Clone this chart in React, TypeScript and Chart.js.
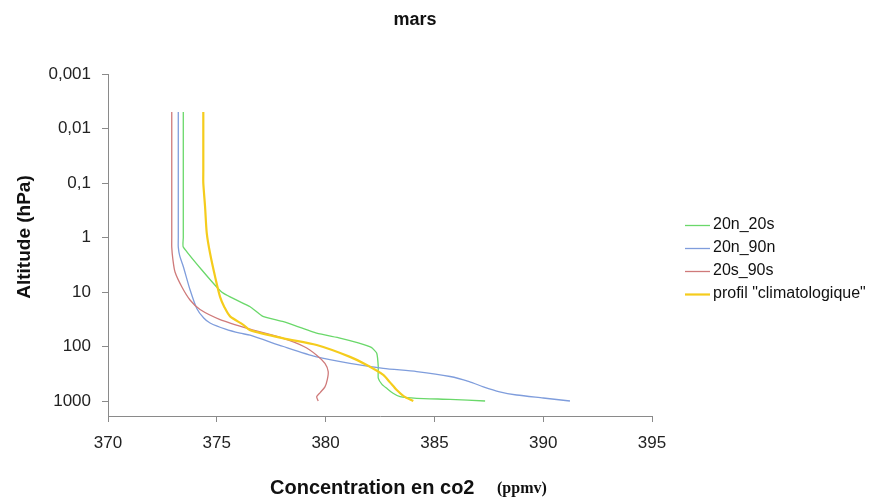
import React, { useEffect, useRef } from "react";
import { Chart, registerables } from "chart.js";

Chart.register(...registerables);

const chartTitle = "mars";
const xTitle = "Concentration en co2";
const xUnit = "(ppmv)";
const yTitle = "Altitude (hPa)";
const xTickValues = [370, 375, 380, 385, 390, 395];
const yTickValues = [0.001, 0.01, 0.1, 1, 10, 100, 1000];

const seriesNames = ["20n_20s", "20n_90n", "20s_90s", "profil \"climatologique\""];
const seriesColors = ["#6ad86a", "#7f9ddc", "#cf7a7a", "#f5cc1c"];

// 20n_20s
const greenCo2 = [373.46, 373.46, 373.46, 375.22, 376.53, 377.12, 378.06, 379.59, 380.66, 381.5, 382.1, 382.35, 382.42, 382.42, 382.6, 382.81, 383.1, 383.42, 384.19, 385.72, 387.33];
const greenP = [0.005, 1.0, 1.5, 10, 18.6, 28, 35, 57, 70, 86, 104, 133, 235, 380, 500, 585, 720, 832, 891, 933, 1000];
// 20n_90n
const blueCo2 = [373.23, 373.23, 373.23, 373.3, 373.46, 373.77, 374.08, 374.4, 374.69, 375.4, 376.07, 376.53, 378.06, 379.59, 381.12, 382.65, 384.19, 385.72, 386.6, 387.25, 388.0, 388.78, 390.0, 391.23];
const blueP = [0.005, 1.0, 1.5, 2.2, 3.4, 9.1, 20, 30, 37, 48, 57, 62, 100, 155, 204, 251, 288, 355, 440, 550, 680, 776, 880, 1000];
// 20s_90s
const redCo2 = [372.93, 372.93, 372.93, 372.98, 373.08, 373.39, 373.77, 374.23, 375.15, 376.53, 378.06, 379.0, 379.59, 379.97, 380.12, 380.08, 379.97, 379.75, 379.59, 379.66];
const redP = [0.005, 1.0, 1.5, 2.5, 4.3, 8, 14, 21, 32, 48, 71, 100, 144, 204, 288, 400, 550, 700, 832, 1000];
// profil climatologique
const yellowCo2 = [374.38, 374.38, 374.38, 374.46, 374.54, 374.69, 374.92, 375.15, 375.35, 375.61, 376.22, 376.53, 378.06, 379.59, 381.12, 381.89, 382.65, 382.95, 383.27, 383.6, 384.03];
const yellowP = [0.005, 0.06, 0.1, 0.27, 0.84, 1.95, 5.2, 12.3, 19, 28, 40, 50, 71, 94, 155, 219, 332, 450, 630, 820, 1000];

const FONT = "'Liberation Sans', Arial, sans-serif";

const toPoints = (xs: number[], ys: number[]) => xs.map((x, i) => ({ x, y: ys[i] }));

const overlayPlugin = {
  id: "overlay",
  afterDraw(chart: any) {
    const ctx = chart.ctx as CanvasRenderingContext2D;
    ctx.save();
    ctx.fillStyle = "#111";
    // title
    ctx.font = `bold 18px ${FONT}`;
    ctx.textAlign = "center";
    ctx.textBaseline = "middle";
    ctx.fillText(chartTitle, 415, 20);
    // y title
    ctx.save();
    ctx.font = `bold 19px ${FONT}`;
    ctx.translate(25, 237);
    ctx.rotate(-Math.PI / 2);
    ctx.fillText(yTitle, 0, 0);
    ctx.restore();
    // x title
    ctx.textAlign = "left";
    ctx.textBaseline = "alphabetic";
    ctx.font = `bold 20px ${FONT}`;
    ctx.fillText(xTitle, 270, 494);
    ctx.font = `bold 16px 'Liberation Serif', 'Times New Roman', serif`;
    ctx.fillText(xUnit, 497, 493);
    // legend
    ctx.font = `16px ${FONT}`;
    ctx.textBaseline = "middle";
    const rows = [225, 248, 271, 294];
    chart.data.datasets.forEach((ds: any, i: number) => {
      const y = rows[i];
      ctx.strokeStyle = ds.borderColor;
      ctx.lineWidth = ds.borderWidth;
      ctx.beginPath();
      ctx.moveTo(685, y + 0.5);
      ctx.lineTo(710, y + 0.5);
      ctx.stroke();
      ctx.fillStyle = "#111";
      ctx.fillText(ds.label, 713, y);
    });
    ctx.restore();
  },
};

export default function App() {
  const ref = useRef<HTMLCanvasElement | null>(null);
  useEffect(() => {
    if (!ref.current) return;
    const datasets = [
      { label: seriesNames[0], data: toPoints(greenCo2, greenP), borderColor: seriesColors[0], borderWidth: 1.3, order: 3, tension: 0.15 },
      { label: seriesNames[1], data: toPoints(blueCo2, blueP), borderColor: seriesColors[1], borderWidth: 1.3, order: 2, tension: 0.25 },
      { label: seriesNames[2], data: toPoints(redCo2, redP), borderColor: seriesColors[2], borderWidth: 1.3, order: 1, tension: 0.25 },
      { label: seriesNames[3], data: toPoints(yellowCo2, yellowP), borderColor: seriesColors[3], borderWidth: 2.2, order: 0, tension: 0.25 },
    ].map((d) => ({ ...d, pointRadius: 0, fill: false, showLine: true }));

    const chart = new Chart(ref.current, {
      type: "line",
      data: { datasets } as any,
      options: {
        animation: false,
        responsive: false,
        maintainAspectRatio: false,
        devicePixelRatio: 1,
        layout: { padding: { top: 74, right: 221, left: 0, bottom: 0 } },
        plugins: {
          legend: { display: false },
          title: { display: false },
          tooltip: { enabled: false },
        },
        scales: {
          x: {
            type: "linear",
            position: "bottom",
            min: 370,
            max: 395,
            afterBuildTicks: (s: any) => {
              s.ticks = xTickValues.map((v) => ({ value: v }));
            },
            afterFit: (s: any) => {
              s.height = 83;
            },
            grid: { display: true, drawOnChartArea: false, drawTicks: true, tickLength: 6, color: "#8a8a8a" },
            border: { display: true, color: "#8a8a8a", width: 1 },
            ticks: { font: { family: FONT, size: 17 }, color: "#222", padding: 11, maxRotation: 0, autoSkip: false },
          },
          y: {
            type: "logarithmic",
            reverse: true,
            min: 0.001,
            max: 1884,
            afterBuildTicks: (s: any) => {
              s.ticks = yTickValues.map((v) => ({ value: v }));
            },
            afterFit: (s: any) => {
              s.width = 108;
            },
            grid: { display: true, drawOnChartArea: false, drawTicks: true, tickLength: 6, color: "#8a8a8a" },
            border: { display: true, color: "#8a8a8a", width: 1 },
            ticks: {
              font: { family: FONT, size: 17 },
              color: "#222",
              padding: 11,
              autoSkip: false,
              callback: (v: any) => String(Number(v)).replace(".", ","),
            },
          },
        },
      } as any,
      plugins: [overlayPlugin],
    });
    return () => chart.destroy();
  }, []);

  return (
    <div style={{ position: "absolute", left: 0, top: 0, width: 873, height: 499, background: "#fff" }}>
      <canvas ref={ref} width={873} height={499} style={{ width: 873, height: 499, display: "block" }} />
    </div>
  );
}
